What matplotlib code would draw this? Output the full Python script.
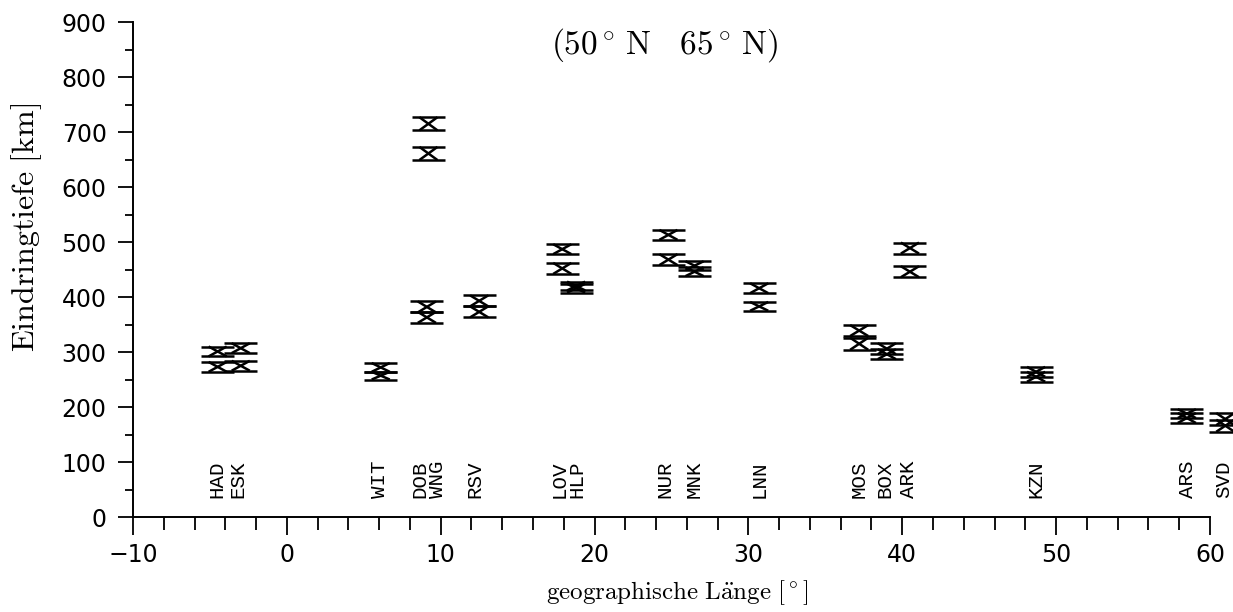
import numpy as np
import matplotlib
matplotlib.use("Agg")
import matplotlib.pyplot as plt
from matplotlib.ticker import MultipleLocator
from matplotlib.collections import LineCollection

plt.rcParams['mathtext.fontset'] = 'cm'

# Stationen: Name, Laenge der Marke, Laenge der Beschriftung, zwei Eindringtiefen
stations = ["HAD", "ESK", "WIT", "DOB", "WNG", "RSV", "LOV", "HLP", "NUR",
            "MNK", "LNN", "MOS", "BOX", "ARK", "KZN", "ARS", "SVD"]
lon = [-4.5, -3.0, 6.1, 9.2, 9.1, 12.5, 17.9, 18.8, 24.8,
       26.5, 30.7, 37.2, 39.0, 40.5, 48.7, 58.5, 61.0]
label_lon = [-4.54, -3.18, 6.05, 8.65, 9.82, 12.2, 17.7, 18.85, 24.6,
             26.45, 30.7, 37.2, 38.9, 40.4, 48.7, 58.55, 60.9]
depth_a = [301, 307, 272, 715, 382, 393, 487, 420, 513,
           457, 416, 339, 306, 489, 264, 188, 178]
depth_b = [273, 275, 257, 661, 363, 373, 452, 416, 468,
           446, 383, 315, 296, 446, 255, 180, 166]
err_a = [9, 9, 8, 12, 10, 10, 9, 8, 9, 8, 9, 10, 10, 10, 9, 8, 11]
err_b = [9, 9, 7, 12, 10, 10, 10, 8, 10, 8, 8, 11, 9, 10, 9, 9, 11]

xx = np.array(lon + lon)
yy = np.array(depth_a + depth_b)
ee = np.array(err_a + err_b)

fig = plt.figure(figsize=(12.33, 6.12), dpi=100)
ax = fig.add_axes([0.1079, 0.1552, 0.8734, 0.8088])

# Marken: obere und untere Linie plus gekreuzte Schenkel
hw = 1.07
segs = []
for x, y, e in zip(xx, yy, ee):
    segs.append([(x - hw, y + e), (x + hw, y + e)])
    segs.append([(x - hw, y - e), (x + hw, y - e)])
    segs.append([(x - 0.55 * hw, y + e), (x + 0.55 * hw, y - e)])
    segs.append([(x + 0.55 * hw, y + e), (x - 0.55 * hw, y - e)])
lc = LineCollection(segs, colors='black', linewidths=1.8, clip_on=False)
ax.add_collection(lc)

for name, lx in zip(stations, label_lon):
    ax.text(lx, 35, name, rotation=90, ha='center', va='bottom',
            fontsize=15, family='Liberation Mono', clip_on=False)

ax.set_xlim(-10, 60)
ax.set_ylim(0, 900)
ax.spines['top'].set_visible(False)
ax.spines['right'].set_visible(False)
ax.spines['left'].set_linewidth(1.4)
ax.spines['bottom'].set_linewidth(1.4)

ax.xaxis.set_major_locator(MultipleLocator(10))
ax.xaxis.set_minor_locator(MultipleLocator(2))
ax.yaxis.set_major_locator(MultipleLocator(100))
ax.yaxis.set_minor_locator(MultipleLocator(50))
ax.tick_params(axis='x', which='major', direction='out', length=13, width=1.3, pad=6, labelsize=17)
ax.tick_params(axis='x', which='minor', direction='out', length=9, width=1.3)
ax.tick_params(axis='y', which='major', direction='out', length=11, width=1.3, pad=8, labelsize=17)
ax.tick_params(axis='y', which='minor', direction='out', length=6, width=1.3)

ax.set_xlabel(r"$\mathrm{geographische\ L\ddot{a}nge\ [^\circ]}$", fontsize=18)
ax.xaxis.set_label_coords(0.505, -0.123)
ax.set_ylabel(r"$\mathrm{Eindringtiefe\ [km]}$", fontsize=23)
ax.yaxis.set_label_coords(-0.083, 0.584)
ax.text(0.494, 0.954, r"$(50^\circ\,\mathrm{N}\quad 65^\circ\,\mathrm{N})$",
        transform=ax.transAxes, ha='center', va='center', fontsize=24)

fig.savefig("out.png", dpi=100)
